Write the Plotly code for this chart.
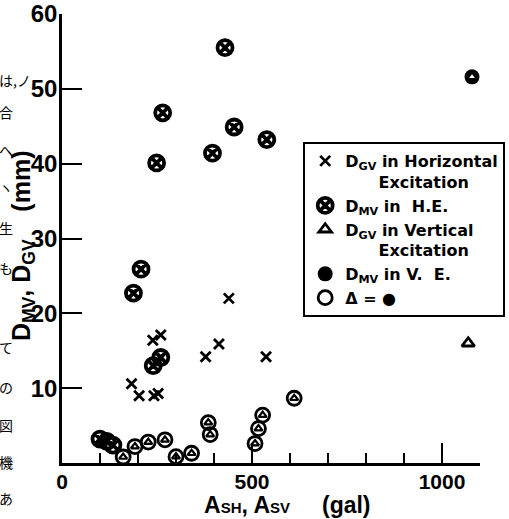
import plotly.graph_objects as go

# D_GV in Horizontal Excitation (x marks)
dgv_he_x = [439, 413, 378, 537, 239, 260, 183, 203, 242, 253]
dgv_he_y = [22.0, 15.9, 14.2, 14.2, 16.4, 17.1, 10.6, 9.0, 9.0, 9.3]

# D_MV in H.E. (circle with x)
dmv_he_x = [429, 453, 539, 396, 265, 249, 208, 188, 240, 260, 100, 118, 134]
dmv_he_y = [55.5, 44.9, 43.2, 41.4, 46.8, 40.1, 25.9, 22.7, 13.0, 14.1, 3.2, 2.9, 2.4]

# D_GV in Vertical Excitation (triangle)
dgv_ve_x = [1069]
dgv_ve_y = [16.0]

# D_MV in V.E. (filled circle)
dmv_ve_x = [1079]
dmv_ve_y = [51.6]

# Triangle = filled circle (coinciding values)
eq_x = [161, 192, 227, 271, 300, 341, 385, 390, 528, 517, 508, 611]
eq_y = [0.8, 2.2, 2.8, 3.1, 0.85, 1.3, 5.4, 3.8, 6.4, 4.6, 2.6, 8.65]

# Tick settings
x_dtick = 500
x_minor = 100
y_ticks = [10, 20, 30, 40, 50, 60]

FONT = "Liberation Sans"
LFONT = "DejaVu Sans"
nb = "&nbsp;"

fig = go.Figure()

fig.add_trace(go.Scatter(
    x=dgv_he_x, y=dgv_he_y, mode="markers", cliponaxis=False,
    name="D<sub>GV</sub> in Horizontal<br>" + nb * 6 + "Excitation",
    marker=dict(symbol="x-thin", size=10, line=dict(width=2.8, color="black"), color="black")))

fig.add_trace(go.Scatter(
    x=dmv_he_x, y=dmv_he_y, mode="markers", cliponaxis=False,
    name="D<sub>MV</sub> in" + nb * 2 + "H.E.",
    marker=dict(symbol="circle-x-open", size=15, line=dict(width=3.8, color="black"), color="black")))

fig.add_trace(go.Scatter(
    x=dgv_ve_x, y=dgv_ve_y, mode="markers", cliponaxis=False,
    name="D<sub>GV</sub> in Vertical<br>" + nb * 6 + "Excitation",
    marker=dict(symbol="triangle-up-open", size=11, line=dict(width=2.8, color="black"), color="black")))

fig.add_trace(go.Scatter(
    x=dmv_ve_x, y=dmv_ve_y, mode="markers", cliponaxis=False,
    name="D<sub>MV</sub> in" + nb + "V." + nb * 2 + "E.", legendgroup="ve",
    marker=dict(symbol="circle", size=15, color="black", line=dict(width=0))))
fig.add_trace(go.Scatter(
    x=dmv_ve_x, y=dmv_ve_y, mode="markers", cliponaxis=False, showlegend=False,
    legendgroup="ve", hoverinfo="skip",
    marker=dict(symbol="triangle-up", size=5, color="white", line=dict(width=0))))

fig.add_trace(go.Scatter(
    x=eq_x, y=eq_y, mode="markers", cliponaxis=False,
    name="Δ = ●", legendgroup="eq",
    marker=dict(symbol="circle-open", size=14, line=dict(width=2.8, color="black"), color="black")))
fig.add_trace(go.Scatter(
    x=eq_x, y=eq_y, mode="markers", cliponaxis=False, showlegend=False,
    legendgroup="eq", hoverinfo="skip",
    marker=dict(symbol="triangle-up-open", size=7, line=dict(width=2.2, color="black"), color="black")))

fig.update_layout(
    width=509, height=519,
    margin=dict(l=62, r=29, t=14, b=56, autoexpand=False),
    paper_bgcolor="white", plot_bgcolor="white",
    font=dict(family=FONT, color="black"),
    showlegend=True,
    legend=dict(
        x=0.577, y=0.715, xanchor="left", yanchor="top",
        bordercolor="black", borderwidth=2, bgcolor="white",
        font=dict(family=LFONT, size=16, color="black", weight="bold"),
        valign="top", tracegroupgap=0, itemsizing="trace",
    ),
    xaxis=dict(
        range=[0, 1100], showgrid=False, zeroline=False, automargin=False,
        showline=True, linecolor="black", linewidth=2.5,
        tickmode="linear", tick0=0, dtick=x_dtick,
        ticks="inside", ticklen=20, tickwidth=2, tickcolor="black",
        minor=dict(dtick=x_minor, ticks="inside", ticklen=10, tickwidth=2, tickcolor="black"),
        ticklabelstandoff=-2,
        tickfont=dict(family=FONT, size=21, color="black", weight="bold"),
    ),
    yaxis=dict(
        range=[0, 60], showgrid=False, zeroline=False, automargin=False,
        showline=True, linecolor="black", linewidth=2.5,
        tickmode="array", tickvals=y_ticks, ticktext=[str(v) for v in y_ticks],
        ticks="inside", ticklen=20, tickwidth=2, tickcolor="black",
        ticklabelstandoff=-3,
        tickfont=dict(family=FONT, size=24, color="black", weight="bold"),
    ),
)

# y-axis title
fig.add_annotation(
    xref="paper", yref="paper", x=(23 - 62) / 418, y=(463 - 246) / 449,
    xanchor="center", yanchor="middle", showarrow=False, textangle=-90,
    text="D<sub>MV</sub>," + nb + "D<sub>GV</sub>" + nb * 4 + "(mm)",
    font=dict(family=FONT, size=25, color="black", weight="bold"))

# x-axis title
fig.add_annotation(
    xref="paper", yref="paper", x=(287 - 62) / 418, y=(463 - 505) / 449,
    xanchor="center", yanchor="middle", showarrow=False,
    text="A<span style='font-size:15px'>SH</span>, A<span style='font-size:15px'>SV</span>" + nb * 5 + "(gal)",
    font=dict(family=FONT, size=23, color="black", weight="bold"))

# Neighbouring page text visible at left edge of the scan
jp_chars = ["は,ノ", "合", "へ", "ヽ", "生", "も", "て", "の", "図", "機", "あ"]
jp_ypix = [80, 112, 150, 187, 228, 268, 347, 387, 425, 462, 498]
for ch, yp in zip(jp_chars, jp_ypix):
    fig.add_annotation(
        xref="paper", yref="paper", x=(-3 - 62) / 418, y=(463 - yp) / 449,
        xanchor="left", yanchor="middle", showarrow=False, text=ch,
        font=dict(family="Noto Sans CJK JP", size=14, color="black"))

fig.write_html("out.html")
